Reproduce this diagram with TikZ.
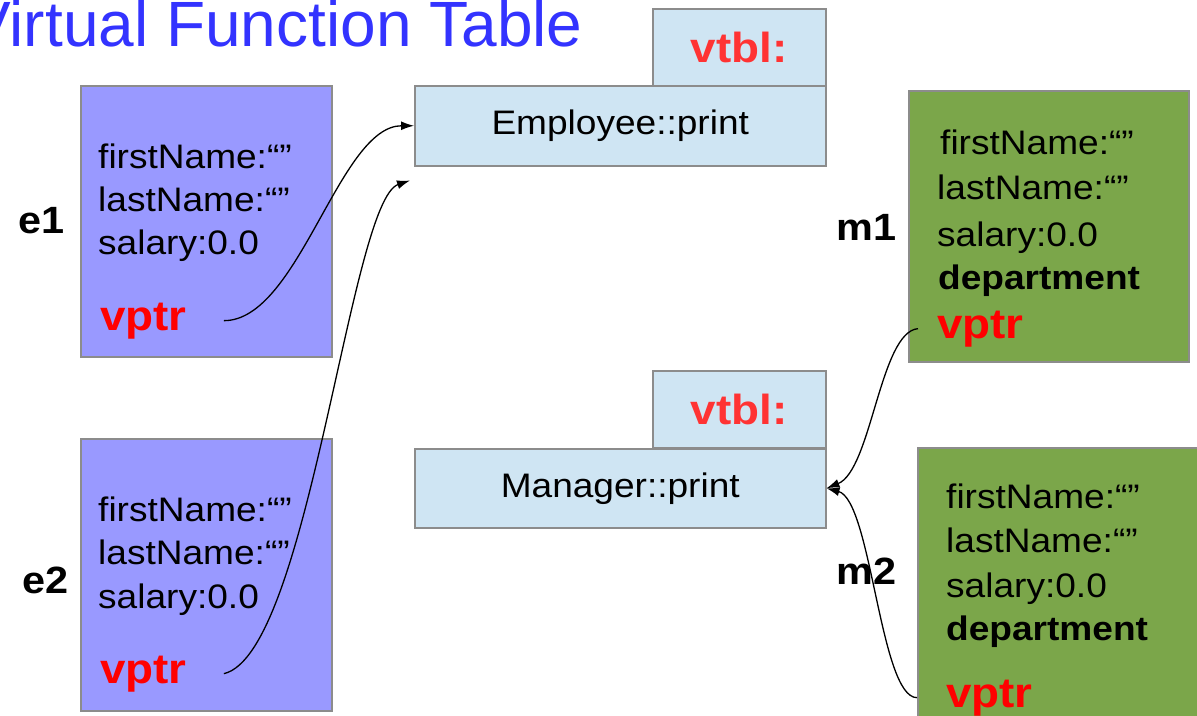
\documentclass[tikz,border=0pt]{standalone}
\usepackage{fontspec}
\setmainfont{Liberation Sans}[FakeStretch=1.09]
\newfontfamily\titlefont{Liberation Sans}
\usetikzlibrary{positioning,arrows.meta}
\definecolor{empblue}{HTML}{9999FF}
\definecolor{mgrgreen}{HTML}{7BA64A}
\definecolor{tblblue}{HTML}{CFE5F3}
\definecolor{titleblue}{HTML}{3333FF}
\definecolor{ptrred}{HTML}{FF0000}
\definecolor{tblred}{HTML}{FF3333}
\definecolor{boxgray}{HTML}{8C8C8C}
\begin{document}
\begin{tikzpicture}[x=1pt,y=-1pt] % vtable
\tikzstyle{obj} = [draw=boxgray, line width=1.5pt, inner sep=0pt, anchor=north west] % box style
\tikzstyle{emp} = [obj, fill=empblue, minimum width=251pt, minimum height=271pt] % Employee object
\tikzstyle{mgr} = [obj, fill=mgrgreen, minimum width=280pt, minimum height=271pt] % Manager object
\tikzstyle{tbl} = [obj, fill=tblblue, minimum width=411pt, minimum height=80pt, font=\fontsize{34}{40}\selectfont] % table row
\tikzstyle{tab} = [obj, fill=tblblue, minimum width=173pt, minimum height=77pt] % table tab
\tikzstyle{field} = [anchor=base west, inner sep=0pt, font=\fontsize{34}{40}\selectfont] % member text
\tikzstyle{vptr} = [field, text=ptrred, font=\fontsize{42}{48}\selectfont\bfseries] % vptr text
\tikzstyle{vtbl} = [inner sep=0pt, text=tblred, font=\fontsize{42}{48}\selectfont\bfseries] % vtbl text
\tikzstyle{objname} = [field, font=\fontsize{38}{44}\selectfont\bfseries] % object name
\tikzstyle{ptr} = [-{Latex[length=13pt,width=9pt]}, line width=1.3pt] % pointer arrow
\useasboundingbox (0,0) rectangle (1197,715);
\node[anchor=base west, inner sep=0pt, text=titleblue, font=\titlefont\fontsize{64}{72}\selectfont] (title) at (-32,46) {Virtual Function Table};
% tables
\node[tab] (emptab) at (652,8) {};
\node[vtbl] (empvtbl) at (emptab.center) {vtbl:};
\node[tbl] (emptbl) at (414,85) {Employee::print};
\node[tab] (mgrtab) at (652,370) {};
\node[vtbl] (mgrvtbl) at (mgrtab.center) {vtbl:};
\node[tbl, minimum height=79pt] (mgrtbl) at (414,448) {Manager::print};
% objects e1, e2
\node[emp] (e1) at (80,85) {};
\node[field] (e1first) at (98,168) {firstName:“”};
\node[field] (e1last) at (98,211) {lastName:“”};
\node[field] (e1sal) at (98,254) {salary:0.0};
\node[vptr] (e1vptr) at (100,330) {vptr};
\node[objname] (e1lbl) at (18,233) {e1};
\node[emp, minimum height=272pt] (e2) at (80,438) {};
\node[field] (e2first) at (98,521) {firstName:“”};
\node[field] (e2last) at (98,564) {lastName:“”};
\node[field] (e2sal) at (98,608) {salary:0.0};
\node[vptr] (e2vptr) at (100,683) {vptr};
\node[objname] (e2lbl) at (22,593) {e2};
% objects m1, m2
\node[mgr] (m1) at (908,90) {};
\node[field] (m1first) at (940,154) {firstName:“”};
\node[field] (m1last) at (937,199) {lastName:“”};
\node[field] (m1sal) at (937,246) {salary:0.0};
\node[field, font=\fontsize{34}{40}\selectfont\bfseries] (m1dep) at (938,289) {department};
\node[vptr] (m1vptr) at (937,338) {vptr};
\node[objname] (m1lbl) at (836,240) {m1};
\node[mgr, minimum width=290pt, minimum height=280pt] (m2) at (917,447) {};
\node[field] (m2first) at (946,508) {firstName:“”};
\node[field] (m2last) at (946,552) {lastName:“”};
\node[field] (m2sal) at (946,597) {salary:0.0};
\node[field, font=\fontsize{34}{40}\selectfont\bfseries] (m2dep) at (946,640) {department};
\node[vptr] (m2vptr) at (946,707) {vptr};
\node[objname] (m2lbl) at (836,584) {m2};
% pointers
\coordinate (e2in) at ([shift={(-4,14)}]emptbl.south west);
\draw[ptr] ([xshift=37pt]e1vptr.east) .. controls +(75,0) and +(-75,0) .. (emptbl.west);
\draw[ptr] ([xshift=37pt]e2vptr.east) .. controls +(85,-20) and +(-60,20) .. (e2in);
\draw[ptr] ([xshift=-19pt]m1vptr.west) .. controls +(-38,3) and +(45,-18) .. (mgrtbl.east);
\draw[ptr] ([xshift=-29pt]m2vptr.west) .. controls +(-37,0) and +(45,12) .. (mgrtbl.east);
\end{tikzpicture}
\end{document}
